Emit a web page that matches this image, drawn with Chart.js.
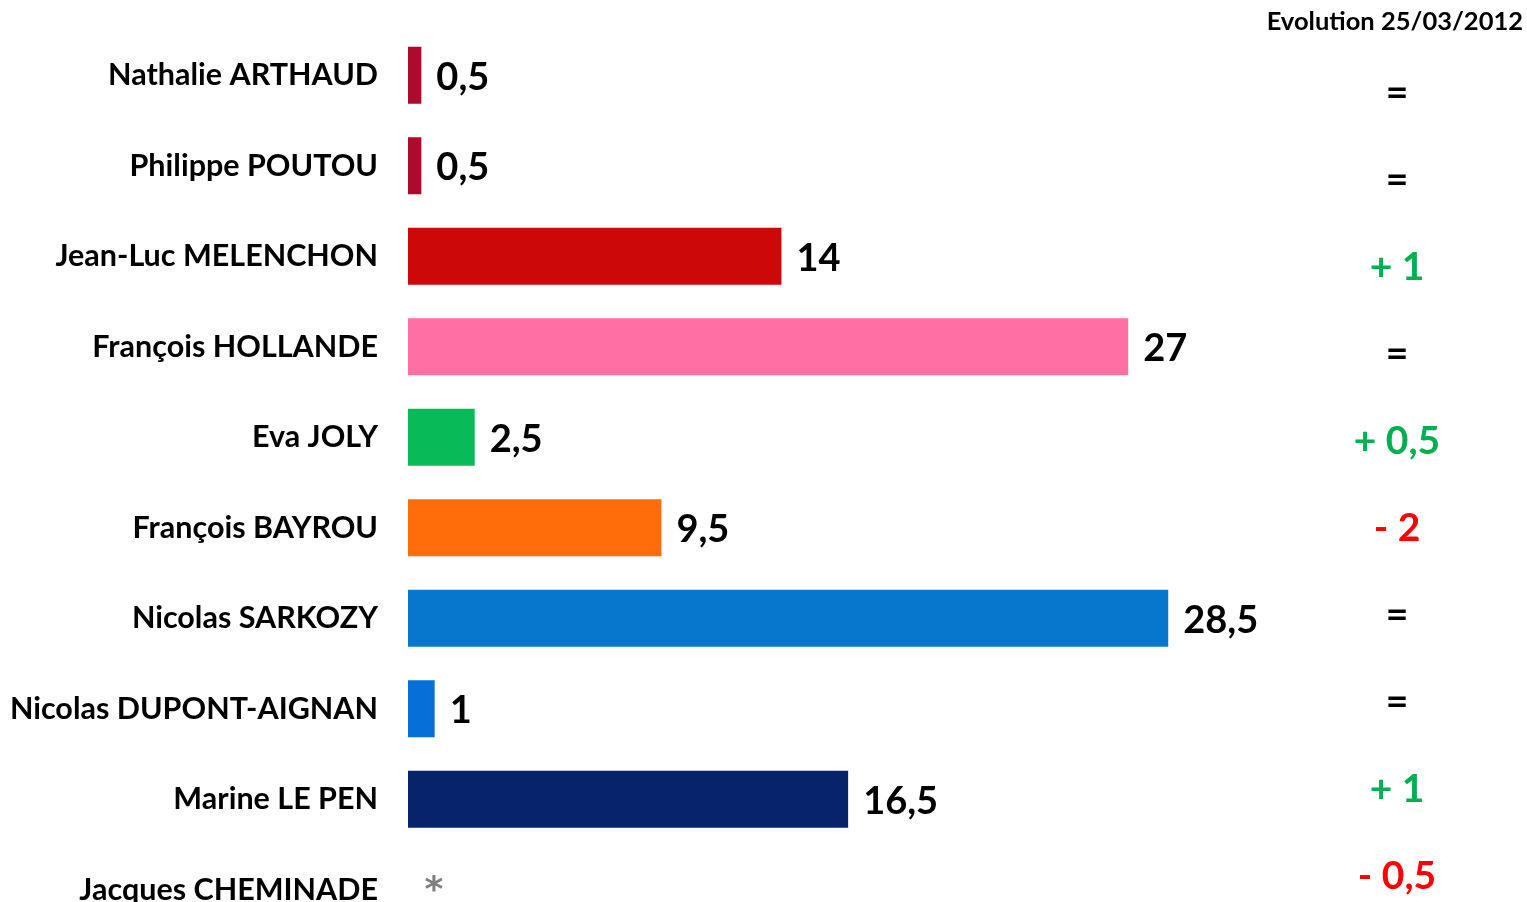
<!DOCTYPE html>
<html>
<head>
<meta charset="utf-8">
<script src="https://cdn.jsdelivr.net/npm/chart.js@4/dist/chart.umd.min.js"></script>
<style>
html,body{margin:0;padding:0;background:#fff;overflow:hidden;}
canvas{display:block;}
</style>
</head>
<body>
<canvas id="c" width="1527" height="935"></canvas>
<script>
const candidates = ["Nathalie ARTHAUD","Philippe POUTOU","Jean-Luc MELENCHON","François HOLLANDE","Eva JOLY","François BAYROU","Nicolas SARKOZY","Nicolas DUPONT-AIGNAN","Marine LE PEN","Jacques CHEMINADE"];
const scores = [0.5,0.5,14,27,2.5,9.5,28.5,1,16.5,null];
const barColors = ["#AE0A2B","#AE0A2B","#CC0808","#FF6FA3","#08BA58","#FF6C0A","#0677CC","#0670D8","#07246A","#7F7F7F"];
const evolution = ["=","=","+ 1","=","+ 0,5","- 2","=","=","+ 1","- 0,5"];
const evolutionColors = ["#000000","#000000","#00B050","#000000","#00B050","#FF0000","#000000","#000000","#00B050","#FF0000"];
const evolutionTitle = "Evolution 25/03/2012";
const FONT = "Lato, 'Open Sans', sans-serif";

const fmt = v => String(v).replace('.', ',');

const labelPlugin = {
  id: 'labels',
  afterDatasetsDraw(chart) {
    const ctx = chart.ctx;
    const meta = chart.getDatasetMeta(0);
    const xs = chart.scales.x;
    const area = chart.chartArea;
    ctx.save();
    meta.data.forEach((bar, i) => {
      const v = scores[i];
      if (v === null || v === undefined) {
        ctx.fillStyle = '#7F7F7F';
        ctx.font = "bold 36px 'DejaVu Sans', sans-serif";
        ctx.textAlign = 'center';
        ctx.textBaseline = 'alphabetic';
        ctx.fillText('*', xs.getPixelForValue(0) + 26, bar.y + 11);
      } else {
        ctx.fillStyle = '#000';
        ctx.font = "bold 38px " + FONT;
        ctx.textAlign = 'left';
        ctx.textBaseline = 'middle';
        ctx.fillText(fmt(v), bar.x + 15, bar.y + 2);
      }
    });
    // evolution column
    const cx = area.right - 78;
    const top = area.top + 63;
    const step = 87.1;
    ctx.textAlign = 'center';
    ctx.textBaseline = 'middle';
    ctx.font = "bold 39px " + FONT;
    evolution.forEach((t, i) => {
      ctx.fillStyle = evolutionColors[i];
      ctx.fillText(t, cx, top + i * step);
    });
    ctx.fillStyle = '#000';
    ctx.textAlign = 'right';
    ctx.font = "bold 25.5px " + FONT;
    ctx.fillText(evolutionTitle, chart.width - 4, 22);
    ctx.restore();
  }
};

new Chart(document.getElementById('c'), {
  type: 'bar',
  data: {
    labels: candidates,
    datasets: [{
      data: scores,
      backgroundColor: barColors,
      borderWidth: 0,
      categoryPercentage: 1,
      barPercentage: 0.63
    }]
  },
  options: {
    indexAxis: 'y',
    responsive: false,
    animation: false,
    layout: { padding: { top: 30, right: 52, bottom: 0, left: 0 } },
    plugins: { legend: { display: false }, tooltip: { enabled: false } },
    scales: {
      x: { display: false, min: 0, max: 40 },
      y: {
        grid: { display: false, drawTicks: false },
        border: { display: false },
        ticks: { color: '#000', padding: 30, font: { family: FONT, size: 30.5, weight: 'bold' } },
        afterFit(scale) { scale.width = 408; scale.paddingTop = 0; scale.paddingBottom = 0; }
      }
    }
  },
  plugins: [labelPlugin]
});
</script>
</body>
</html>
